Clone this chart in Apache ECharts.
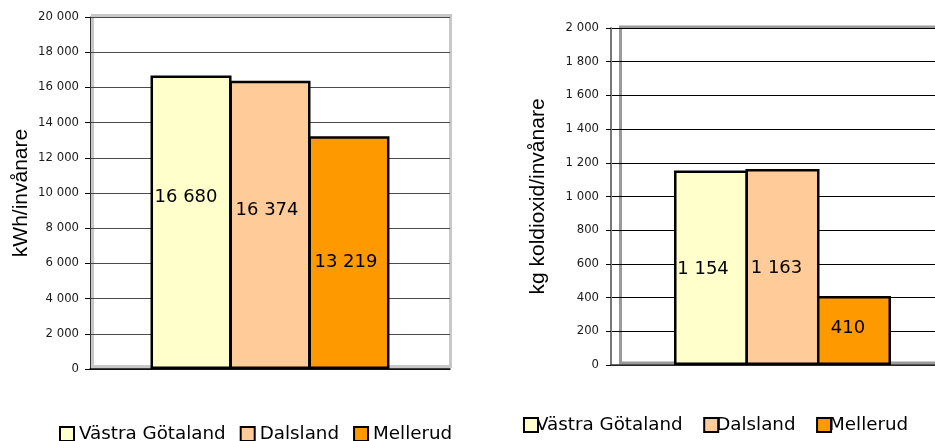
<!DOCTYPE html>
<html>
<head>
<meta charset="utf-8">
<script src="https://cdn.jsdelivr.net/npm/echarts@6/dist/echarts.min.js"></script>
<style>
  html, body { margin: 0; padding: 0; background: #fff; }
  #chart { width: 935px; height: 441px; }
</style>
</head>
<body>
<div id="chart"></div>
<script>
// Regions compared in both panels
const regions = ['Västra Götaland', 'Dalsland', 'Mellerud'];
const regionColors = ['#FFFFCC', '#FFCC99', '#FF9900'];

// Electricity use per inhabitant (kWh)
const energyValues = [16680, 16374, 13219];
// Carbon dioxide emissions per inhabitant (kg)
const co2Values = [1154, 1163, 410];

// Axis settings
const energyAxis = { name: 'kWh/invånare', min: 0, max: 20000, interval: 2000 };
const co2Axis = { name: 'kg koldioxid/invånare', min: 0, max: 2000, interval: 200 };

// Nudges for the value labels inside the bars [x, y]
const energyLabelOffsets = [[-5, -25], [-3, -15], [-3, 10]];
const co2LabelOffsets = [[-8, 2], [-6, 1], [-6, -2]];

const fmt = v => String(v).replace(/\B(?=(\d{3})+(?!\d))/g, ' ');

const tickFont = { fontFamily: 'DejaVu Sans', fontSize: 11.7, color: '#1a1a1a' };
const bigFont = { fontFamily: 'DejaVu Sans', fontSize: 18, color: '#000' };
const legendFont = { fontFamily: 'DejaVu Sans', fontSize: 18.3, color: '#000' };
const nameFont = { fontFamily: 'Liberation Sans', fontSize: 21, color: '#000' };

function valueAxis(cfg, gridIndex, opts) {
  return {
    type: 'value', gridIndex, min: cfg.min, max: cfg.max, interval: cfg.interval,
    name: cfg.name, nameLocation: 'middle', nameGap: opts.nameGap, nameRotate: 90,
    nameTextStyle: nameFont,
    axisLine: { show: true, lineStyle: { color: opts.axisColor, width: opts.axisWidth } },
    axisTick: { show: true, length: 5, lineStyle: { color: '#000' } },
    axisLabel: Object.assign({ formatter: fmt, margin: opts.labelMargin }, tickFont),
    splitLine: { show: true, lineStyle: { color: opts.gridColor, width: 1 } }
  };
}

// Adjacent bars share their black outline, so neighbours overlap slightly
function bars(values, gridIndex, barWidth, barGap, offsets) {
  return regions.map((name, i) => ({
    type: 'bar', name, xAxisIndex: gridIndex, yAxisIndex: gridIndex,
    data: [values[i]], barWidth, barGap,
    itemStyle: { color: regionColors[i], borderColor: '#000', borderWidth: 2.5 },
    label: Object.assign({
      show: true, position: 'inside', offset: offsets[i], formatter: p => fmt(p.value)
    }, bigFont),
    emphasis: { disabled: true }, z: 3
  }));
}

const hiddenAxis = gi => ({ type: 'value', gridIndex: gi, show: false });

const option = {
  animation: false,
  grid: [
    // energy panel
    { left: 90, top: 17, width: 360, height: 352, outerBoundsMode: 'none' },
    // energy panel wall frame
    { left: 92.5, top: 15.5, width: 358, height: 351, show: true, outerBoundsMode: 'none',
      borderColor: '#c8c8c8', borderWidth: 3, backgroundColor: 'transparent' },
    // CO2 panel (runs past the right edge of the page)
    { left: 611, top: 28, width: 343, height: 337, outerBoundsMode: 'none' },
    // CO2 panel wall frame
    { left: 620.5, top: 27, width: 400, height: 336, show: true, outerBoundsMode: 'none',
      borderColor: '#9a9a9a', borderWidth: 3, backgroundColor: 'transparent' }
  ],
  xAxis: [
    { type: 'category', gridIndex: 0, data: [''],
      axisLine: { lineStyle: { color: '#000', width: 1.5 } },
      axisTick: { show: false }, axisLabel: { show: false } },
    hiddenAxis(1),
    { type: 'category', gridIndex: 2, data: [''],
      axisLine: { lineStyle: { color: '#333', width: 1.5 } },
      axisTick: { show: false }, axisLabel: { show: false } },
    hiddenAxis(3)
  ],
  yAxis: [
    valueAxis(energyAxis, 0, { nameGap: 58, axisColor: '#333', axisWidth: 1, labelMargin: 11, gridColor: '#4a4a4a' }),
    hiddenAxis(1),
    valueAxis(co2Axis, 2, { nameGap: 62, axisColor: '#777', axisWidth: 2, labelMargin: 12, gridColor: '#000' }),
    hiddenAxis(3)
  ],
  legend: [
    { left: 59, top: 425, padding: 0, itemWidth: 14, itemHeight: 14, itemGap: 14,
      icon: 'rect', data: regions, textStyle: legendFont, selectedMode: false },
    { left: 523, top: 416, padding: 0, itemWidth: 14, itemHeight: 14, itemGap: 20.5,
      icon: 'rect', data: regions,
      textStyle: Object.assign({ padding: [0, 0, 0, -7] }, legendFont), selectedMode: false }
  ],
  series: [].concat(
    bars(energyValues, 0, 81, '-2.5%', energyLabelOffsets),
    bars(co2Values, 2, 74, '-3.4%', co2LabelOffsets)
  )
};

const chart = echarts.init(document.getElementById('chart'), null, { renderer: 'canvas' });
chart.setOption(option);
</script>
</body>
</html>
